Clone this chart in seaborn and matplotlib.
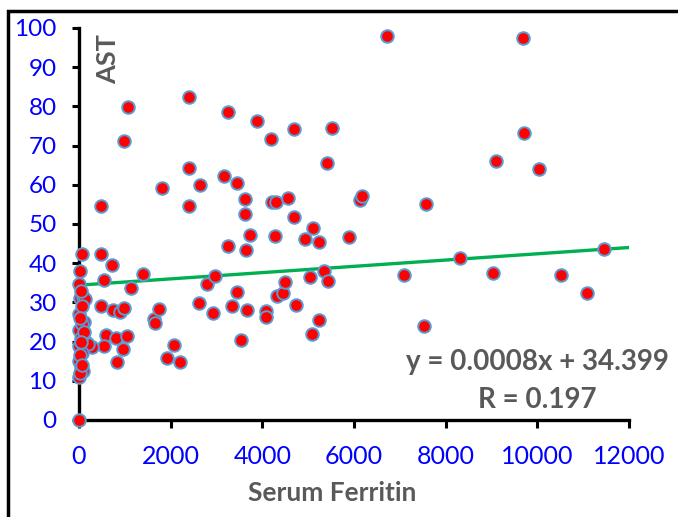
import matplotlib
matplotlib.use("Agg")
import matplotlib.pyplot as plt
import numpy as np
import pandas as pd
import seaborn as sns
from matplotlib.patches import Rectangle

# Serum Ferritin vs AST
ferritin = [
    6720, 9680, 2390, 1060, 3250, 3880, 4690, 5510, 9700, 4190,
    990, 2400, 5420, 9090, 10030, 3170, 3450, 2630, 1810, 490,
    2400, 3630, 3620, 4210, 4290, 4570, 4690, 5110, 4930, 5240,
    3740, 4280, 3260, 3650, 6120, 6170, 7580, 5890, 8320, 11450,
    60, 470, 730, 545, 1396, 1135, 480, 750, 900, 980,
    590, 810, 1047, 545, 960, 284, 829, 1640, 1756, 1658,
    2073, 1920, 2204, 2610, 2793, 2967, 2924, 3338, 3447, 3665,
    3535, 4090, 4080, 4320, 4440, 4495, 4735, 5040, 5084, 5230,
    5335, 5433, 7091, 7528, 9033, 10516, 11084,
    20, 10, 20, 10, 10, 10, 10, 10, 0,
    90, 130, 60, 110, 60, 150, 200, 40, 70, 40,
    80, 30, 100, 50, 30, 50, 20, 60,
]
ast = [
    98.0, 97.4, 82.4, 79.9, 78.6, 76.2, 74.2, 74.5, 73.1, 71.7,
    71.2, 64.4, 65.6, 66.0, 64.0, 62.2, 60.5, 60.0, 59.2, 54.6,
    54.6, 56.3, 52.6, 55.5, 55.6, 56.7, 51.7, 48.9, 46.2, 45.3,
    47.1, 47.0, 44.4, 43.4, 56.0, 57.1, 55.1, 46.7, 41.2, 43.6,
    42.4, 42.4, 39.5, 35.6, 37.3, 33.7, 29.1, 28.1, 27.6, 28.5,
    21.8, 20.9, 21.4, 19.0, 18.1, 18.5, 14.8, 25.8, 28.2, 24.7,
    19.2, 15.8, 14.8, 29.8, 34.7, 36.8, 27.3, 29.1, 32.7, 28.1,
    20.4, 27.9, 26.3, 31.6, 32.4, 35.2, 29.3, 36.4, 22.0, 25.5,
    38.1, 35.5, 37.0, 24.0, 37.5, 37.0, 32.4,
    38.0, 34.7, 31.1, 27.0, 23.0, 18.9, 15.1, 11.0, 0.0,
    31.5, 30.8, 29.0, 25.0, 24.5, 20.0, 19.3, 21.0, 17.0, 13.5,
    12.5, 26.0, 22.5, 33.0, 16.5, 20.0, 12.0, 14.0,
]

# linear trendline shown on the chart
slope = 0.0008
intercept = 34.399
r_value = 0.197
trend_x = [0, 12000]

x_ticks = [0, 2000, 4000, 6000, 8000, 10000, 12000]
y_ticks = [0, 10, 20, 30, 40, 50, 60, 70, 80, 90, 100]

df = pd.DataFrame({"Serum Ferritin": ferritin, "AST": ast})

sns.set_style("white")
plt.rcParams["font.family"] = ["Lato", "DejaVu Sans"]

gray = "#595959"
blue = "#0000FF"

fig = plt.figure(figsize=(6.78, 5.17), dpi=100)
ax = fig.add_axes([79 / 678, 97 / 517, 550 / 678, 392 / 517])

line_y = [slope * v + intercept for v in trend_x]
sns.lineplot(x=trend_x, y=line_y, ax=ax, color="#00B050", linewidth=2.4, zorder=2)

sns.scatterplot(data=df, x="Serum Ferritin", y="AST", ax=ax,
                color="#FF0000", edgecolor="#5B9BD5", linewidth=1.4,
                s=82, zorder=3, clip_on=False)

ax.set_xlim(0, 12000)
ax.set_ylim(0, 100)
ax.set_xticks(x_ticks)
ax.set_yticks(y_ticks)

for side in ["top", "right"]:
    ax.spines[side].set_visible(False)
for side in ["left", "bottom"]:
    ax.spines[side].set_linewidth(2.4)
    ax.spines[side].set_color("black")

ax.tick_params(axis="x", direction="out", length=6, width=2.2, color="black",
               labelsize=18, labelcolor=blue, pad=12, bottom=True)
ax.tick_params(axis="y", direction="out", length=5, width=2.2, color="black",
               labelsize=17.5, labelcolor=blue, pad=11, left=True)

ax.set_xlabel("Serum Ferritin", fontsize=19, fontweight="bold", color=gray)
ax.xaxis.set_label_coords(0.46, -0.155)
ax.set_ylabel("")
ax.text(0.053, 0.92, "AST", transform=ax.transAxes, rotation=90,
        fontsize=19.5, fontweight="bold", color=gray, ha="center", va="center")

ax.text(537 / 678, 1 - 362 / 517,
        f"y = {slope}x + {intercept}", transform=fig.transFigure,
        fontsize=20, fontweight="bold", color=gray, ha="center", va="center")
ax.text(537 / 678, 1 - 400 / 517,
        f"R = {r_value}", transform=fig.transFigure,
        fontsize=20, fontweight="bold", color=gray, ha="center", va="center")

# outer chart border (cut by image edge on right/bottom)
fig.patches.append(Rectangle((8 / 678, -0.1), 1.2, 1.1 - 11 / 517,
                             transform=fig.transFigure, fill=False,
                             edgecolor="black", linewidth=2.5))

fig.savefig("out.png", dpi=100, facecolor="white")
